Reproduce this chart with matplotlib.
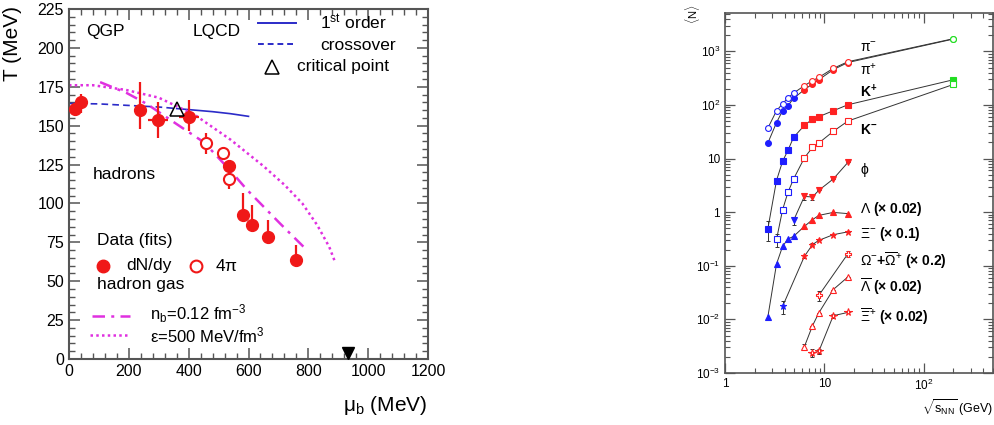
import math
import matplotlib
matplotlib.use("Agg")
import matplotlib.pyplot as plt
from matplotlib.ticker import MultipleLocator, FixedLocator, FuncFormatter, LogLocator, NullFormatter

plt.rcParams['font.family'] = ['Liberation Sans', 'DejaVu Sans']
plt.rcParams['mathtext.fontset'] = 'custom'
plt.rcParams['mathtext.rm'] = 'Liberation Sans'
plt.rcParams['mathtext.it'] = 'Liberation Sans:italic'
plt.rcParams['mathtext.bf'] = 'Liberation Sans:bold'

# ---- left panel: freeze-out points in the (mu_b, T) plane ----
mu_fill = [20, 39, 237, 297, 402, 536, 581, 612, 666, 759]
T_fill = [160.4, 165.4, 160, 153.6, 155.7, 124, 92.5, 86, 78.6, 63.6]
T_fill_up = [4, 5, 18, 11.5, 11, 4, 14, 13, 10.7, 9.7]
T_fill_lo = [4, 7, 12, 11.5, 9, 4, 2, 2, 2, 2]
mu_fill_err = [0, 0, 0, 33, 33, 0, 0, 0, 0, 15]

mu_open = [458, 516, 536]
T_open = [138.6, 132.6, 115.5]
T_open_up = [6.5, 4, 5]
T_open_lo = [6.5, 4, 6]

mu_crossover = [0, 100, 200, 300, 360]
T_crossover = [164.3, 164, 163, 162, 161]
mu_first = [360, 420, 480, 540, 600]
T_first = [161, 160, 159, 157.7, 156]
mu_nb = [104, 193, 260, 360, 438, 472, 540, 594, 650, 706, 790]
T_nb = [178, 171, 164, 151, 141, 135, 121, 109, 98, 87, 71]
mu_eps = [0, 80, 190, 300, 420, 540, 650, 720, 780, 830, 870, 890]
T_eps = [176, 176, 173, 168, 157, 141, 124, 112, 100, 86, 72, 62]
mu_cp, T_cp = 360, 161
mu_nuc, T_nuc = 932, 4

# ---- right panel: particle yields vs sqrt(s_NN) ----
pim_s = [2.7, 3.3, 3.8, 4.3, 4.9, 6.3, 7.6, 8.8, 12.3, 17.3, 200]
pim_n = [37, 78, 106, 135, 167, 229, 284, 327, 482, 642, 1727]
pip_s = [2.7, 3.3, 3.8, 4.3, 4.9, 6.3, 7.6, 8.8, 12.3, 17.3, 200]
pip_n = [19.5, 47, 78, 97, 133, 193, 247, 296, 456, 620, 1700]
kp_s = [2.7, 3.3, 3.8, 4.3, 4.9, 6.3, 7.6, 8.8, 12.3, 17.3, 200]
kp_n = [0.49, 3.9, 8.9, 14.2, 24.9, 41.6, 54.7, 60.5, 78, 101, 296]
kp_err = [0.2, 0.5, 0, 0, 0, 0, 0, 0, 0, 0, 0]
km_s = [3.3, 3.8, 4.3, 4.9, 6.3, 7.6, 8.8, 12.3, 17.3, 200]
km_n = [0.31, 1.11, 2.34, 4.16, 10.3, 16.2, 19.5, 32.2, 50.2, 242]
km_err = [0.09, 0.15, 0, 0, 0, 0, 0, 0, 0, 0]
phi_s = [4.9, 6.3, 7.6, 8.8, 12.3, 17.3]
phi_n = [0.70, 1.97, 1.92, 2.56, 4.16, 8.5]
phi_err = [0.12, 0.25, 0.25, 0, 0, 0]
lam_s = [2.7, 3.3, 3.8, 4.3, 4.9, 6.3, 7.6, 8.8, 12.3, 17.3]
lam_n = [0.0111, 0.108, 0.23, 0.316, 0.354, 0.543, 0.724, 0.871, 0.99, 0.94]
xi_s = [3.8, 6.3, 7.6, 8.8, 12.3, 17.3]
xi_n = [0.0175, 0.15, 0.248, 0.298, 0.38, 0.43]
xi_err = [0.005, 0.01, 0.015, 0, 0, 0]
om_s = [8.8, 17.3]
om_n = [0.028, 0.168]
om_err = [0.006, 0.02]
lambar_s = [6.3, 7.6, 8.8, 12.3, 17.3]
lambar_n = [0.0031, 0.0076, 0.0132, 0.036, 0.062]
lambar_err = [0.0003, 0, 0, 0, 0]
xibar_s = [7.6, 8.8, 12.3, 17.3]
xibar_n = [0.00236, 0.00253, 0.0117, 0.0135]
xibar_err = [0.0004, 0.0003, 0.001, 0]

species_labels = [r'$\mathrm{\pi}^{-}$', r'$\mathrm{\pi}^{+}$', r'$\mathbf{K^{+}}$', r'$\mathbf{K^{-}}$',
                  r'$\mathrm{\phi}$',
                  r'$\Lambda$ (× 0.02)', r'$\Xi^{-}$ (× 0.1)', r'$\Omega^{-}$+$\overline{\Omega}^{+}$ (× 0.2)',
                  r'$\overline{\Lambda}$ (× 0.02)', r'$\overline{\Xi}^{+}$ (× 0.02)']

red = '#f01818'
blue = '#2b2bc8'
magenta = '#e030e0'
frame = '#555555'

fig = plt.figure(figsize=(9.94, 4.25), dpi=100)

# ================= left panel =================
ax = fig.add_axes([0.0694, 0.1553, 0.3612, 0.8235])
ax.plot(mu_crossover, T_crossover, color=blue, lw=1.2, ls=(0, (4, 2.5)))
ax.plot(mu_first, T_first, color=blue, lw=1.2)
ax.plot(mu_nb, T_nb, color=magenta, lw=1.8, ls=(0, (5, 2.5, 1.2, 2.5)))
ax.plot(mu_eps, T_eps, color=magenta, lw=1.8, ls=(0, (1, 1.3)))

ax.errorbar(mu_fill, T_fill, yerr=[T_fill_lo, T_fill_up], xerr=mu_fill_err, fmt='o',
            color=red, ms=8.5, elinewidth=1.6, capsize=0, zorder=4)
ax.errorbar(mu_open, T_open, yerr=[T_open_lo, T_open_up], fmt='o', color=red, mfc='white',
            mec=red, mew=1.5, ms=8, elinewidth=1.6, capsize=0, zorder=4)
ax.plot(mu_cp, T_cp, marker='^', ms=10, mfc='none', mec='black', mew=1.1, zorder=5)
ax.plot(mu_nuc, T_nuc, marker='v', ms=8, color='black', clip_on=False, zorder=5)

ax.set_xlim(0, 1200)
ax.set_ylim(0, 225)
ax.xaxis.set_major_locator(MultipleLocator(200))
ax.xaxis.set_minor_locator(MultipleLocator(40))
ax.yaxis.set_major_locator(MultipleLocator(25))
ax.yaxis.set_minor_locator(MultipleLocator(5))
ax.tick_params(which='both', direction='in', top=True, right=True, colors=frame,
               labelcolor='black', labelsize=11.5)
ax.tick_params(which='major', length=8, width=1.1)
ax.tick_params(which='minor', length=4, width=1.0)
for s in ax.spines.values():
    s.set_color(frame)
    s.set_linewidth(1.5)

tx = ax.transAxes
ax.text(0.100, 0.937, 'QGP', transform=tx, fontsize=12.5, ha='center', va='center')
ax.text(0.412, 0.937, 'LQCD', transform=tx, fontsize=12.5, ha='center', va='center')
ax.plot([0.526, 0.632], [0.961, 0.961], transform=tx, color=blue, lw=1.4)
ax.text(0.699, 0.961, r'1$^{\rm st}$ order', transform=tx, fontsize=12.5, ha='left', va='center')
ax.plot([0.526, 0.632], [0.899, 0.899], transform=tx, color=blue, lw=1.4, ls=(0, (3, 2)))
ax.text(0.699, 0.897, 'crossover', transform=tx, fontsize=12.5, ha='left', va='center')
ax.plot([0.565], [0.835], transform=tx, marker='^', ms=10, mfc='none', mec='black', mew=1.1)
ax.text(0.635, 0.835, 'critical point', transform=tx, fontsize=12.5, ha='left', va='center')
ax.text(0.067, 0.526, 'hadrons', transform=tx, fontsize=12.5, ha='left', va='center')
ax.text(0.078, 0.340, 'Data (fits)', transform=tx, fontsize=12.5, ha='left', va='center')
ax.plot([0.095], [0.266], transform=tx, marker='o', ms=9, color=red)
ax.text(0.159, 0.266, 'dN/dy', transform=tx, fontsize=12.5, ha='left', va='center')
ax.plot([0.354], [0.266], transform=tx, marker='o', ms=8.5, mfc='white', mec=red, mew=1.5)
ax.text(0.407, 0.266, r'4$\mathrm{\pi}$', transform=tx, fontsize=12.5, ha='left', va='center')
ax.text(0.078, 0.214, 'hadron gas', transform=tx, fontsize=12.5, ha='left', va='center')
ax.plot([0.064, 0.170], [0.123, 0.123], transform=tx, color=magenta, lw=1.8,
        ls=(0, (5, 2.5, 1.2, 2.5)))
ax.text(0.226, 0.130, r'n$_{\rm b}$=0.12 fm$^{-3}$', transform=tx, fontsize=12, ha='left', va='center')
ax.plot([0.058, 0.170], [0.069, 0.069], transform=tx, color=magenta, lw=1.8, ls=(0, (1, 1.3)))
ax.text(0.226, 0.066, r'$\mathrm{\varepsilon}$=500 MeV/fm$^{3}$', transform=tx, fontsize=12,
        ha='left', va='center')

fig.text(0.43, 0.047, r'$\mathrm{\mu}_{\rm b}$ (MeV)', fontsize=15, ha='right', va='center')
fig.text(0.013, 0.985, 'T (MeV)', fontsize=15, rotation=90, ha='center', va='top')

# ================= right panel =================
bx = fig.add_axes([0.7294, 0.1224, 0.2696, 0.847])


def group_color(s):
    if s < 5:
        return '#1e1eff'
    if s < 100:
        return '#ff2222'
    return '#22dd22'


def draw_species(xs, ys, marker, filled, err=None, ms=4.2):
    bx.plot(xs, ys, color='#333333', lw=0.7, zorder=2)
    if err is not None:
        bx.errorbar(xs, ys, yerr=err, fmt='none', ecolor='#333333', elinewidth=0.7,
                    capsize=1.5, capthick=0.7, zorder=2)
    for s, n in zip(xs, ys):
        c = group_color(s)
        bx.plot(s, n, marker=marker, ms=ms, mec=c, mfc=c if filled else 'white',
                mew=0.8, zorder=3, clip_on=False)


draw_species(pip_s, pip_n, 'o', True)
draw_species(pim_s, pim_n, 'o', False)
draw_species(kp_s, kp_n, 's', True, kp_err)
draw_species(km_s, km_n, 's', False, km_err)
draw_species(phi_s, phi_n, 'v', True, phi_err)
draw_species(lam_s, lam_n, '^', True)
draw_species(xi_s, xi_n, '*', True, xi_err, ms=5)
draw_species(om_s, om_n, 'P', False, om_err)
draw_species(lambar_s, lambar_n, '^', False, lambar_err)
draw_species(xibar_s, xibar_n, '*', False, xibar_err, ms=5.5)

bx.set_xscale('log')
bx.set_yscale('log')
bx.set_xlim(1, 500)
bx.set_ylim(1e-3, 5200)
bx.xaxis.set_major_locator(FixedLocator([1, 10, 100]))
bx.yaxis.set_major_locator(FixedLocator([1e-3, 1e-2, 1e-1, 1, 10, 100, 1000]))
bx.xaxis.set_minor_locator(LogLocator(base=10, subs=range(2, 10)))
bx.yaxis.set_minor_locator(LogLocator(base=10, subs=range(2, 10)))
bx.xaxis.set_minor_formatter(NullFormatter())
bx.yaxis.set_minor_formatter(NullFormatter())


def log_label(v, pos):
    if v == 1:
        return '1'
    if v == 10:
        return '10'
    e = int(round(math.log10(v)))
    return r'10$^{%d}$' % e


bx.xaxis.set_major_formatter(FuncFormatter(log_label))
bx.yaxis.set_major_formatter(FuncFormatter(log_label))
bx.tick_params(which='both', direction='in', top=True, right=True, colors=frame,
               labelcolor='black', labelsize=8.5)
bx.tick_params(which='major', length=7, width=0.9)
bx.tick_params(which='minor', length=3.5, width=0.8)
for s in bx.spines.values():
    s.set_color(frame)
    s.set_linewidth(1.2)

label_y = [0.903, 0.842, 0.781, 0.675, 0.564, 0.456, 0.386, 0.311, 0.239, 0.156]
for lab, ly in zip(species_labels, label_y):
    bx.text(0.504, ly, lab, transform=bx.transAxes, fontsize=10, fontweight='bold',
            ha='left', va='center')

fig.text(0.999, 0.04, r'$\sqrt{\rm s_{NN}}$ (GeV)', fontsize=9, ha='right', va='center')
fig.text(0.697, 0.99, r'$\langle$N$\rangle$', fontsize=8, rotation=90, ha='center', va='top')

fig.savefig('out.png', dpi=100)
